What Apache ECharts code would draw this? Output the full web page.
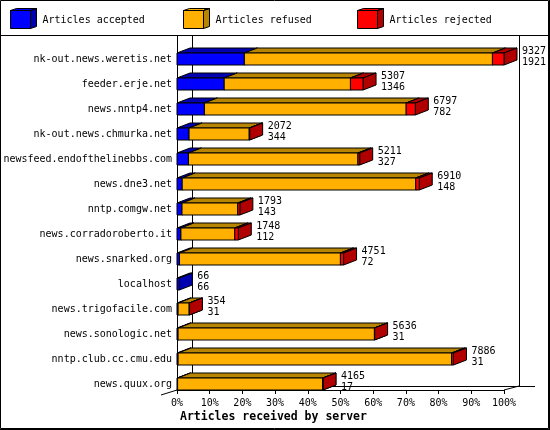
<!DOCTYPE html>
<html>
<head>
<meta charset="utf-8">
<script src="https://cdn.jsdelivr.net/npm/echarts@6/dist/echarts.min.js"></script>
<style>
  html, body { margin: 0; padding: 0; background: #fff; }
  #demo { width: 550px; height: 430px; }
</style>
</head>
<body>
<div id="demo"></div>
<script>
var servers = ["nk-out.news.weretis.net", "feeder.erje.net", "news.nntp4.net", "nk-out.news.chmurka.net",
  "newsfeed.endofthelinebbs.com", "news.dne3.net", "nntp.comgw.net", "news.corradoroberto.it",
  "news.snarked.org", "localhost", "news.trigofacile.com", "news.sonologic.net",
  "nntp.club.cc.cmu.edu", "news.quux.org"];
var totals   = [9327, 5307, 6797, 2072, 5211, 6910, 1793, 1748, 4751, 66, 354, 5636, 7886, 4165];
var accepted = [1921, 1346, 782, 344, 327, 148, 143, 112, 72, 66, 31, 31, 31, 17];
var refused  = [7076, 3601, 5755, 1716, 4834, 6662, 1590, 1536, 4589, 0, 318, 5600, 7805, 4143];
var rejected = [330, 360, 260, 12, 50, 100, 60, 100, 90, 0, 5, 5, 50, 5];
var pctTicks = [0, 10, 20, 30, 40, 50, 60, 70, 80, 90, 100];

var FONT = '"DejaVu Sans Mono", "Liberation Mono", monospace';
var DX = 13, DY = 5;          // depth of the bars
var WX = 15, WY = 4;          // depth of the walls

var colors = {
  accepted: ['#0000ff', '#0000b0'],
  refused:  ['#ffb000', '#b88500'],
  rejected: ['#ff0000', '#b00000']
};

var maxTotal = Math.max.apply(null, totals);
function pct(v) { return v / maxTotal * 100; }

// stacked segments [start%, end%, index]
function segments(vals, before) {
  return vals.map(function (v, i) {
    var s = 0;
    before.forEach(function (arr) { s += arr[i]; });
    return [pct(s), pct(s + v), i];
  });
}

function barItem(front, side) {
  return function (params, api) {
    var i = api.value(2);
    var a = api.coord([api.value(0), i]);
    var b = api.coord([api.value(1), i]);
    if (b[0] - a[0] <= 0) return;
    var band = api.size([0, 1])[1];
    var y1 = a[1] + band / 2;
    var y0 = y1 - 12;
    var x0 = a[0], x1 = b[0];
    var st = function (fill) { return { fill: fill, stroke: '#000', lineWidth: 1 }; };
    return {
      type: 'group',
      children: [
        { type: 'polygon', shape: { points: [[x0, y0], [x1, y0], [x1 + DX, y0 - DY], [x0 + DX, y0 - DY]] }, style: st(side) },
        { type: 'polygon', shape: { points: [[x1, y0], [x1 + DX, y0 - DY], [x1 + DX, y1 - DY], [x1, y1]] }, style: st(side) },
        { type: 'rect', shape: { x: x0, y: y0, width: x1 - x0, height: y1 - y0 }, style: st(front) }
      ]
    };
  };
}

function labelItem(params, api) {
  var p = api.coord([api.value(0), api.value(1)]);
  return {
    type: 'text',
    style: {
      x: p[0] + DX + 5, y: p[1] + 4,
      text: api.value(2) + '\n' + api.value(3),
      fill: '#000', font: '10px ' + FONT,
      verticalAlign: 'middle', align: 'left', lineHeight: 11
    }
  };
}

function frameItem(params, api) {
  var cs = params.coordSys;
  var x0 = cs.x, x1 = cs.x + cs.width, yT = cs.y - 4, yB = cs.y + cs.height;
  var ln = { stroke: '#000', lineWidth: 1 };
  function line(ax, ay, bx, by) {
    return { type: 'line', shape: { x1: ax, y1: ay, x2: bx, y2: by }, style: ln };
  }
  return {
    type: 'group',
    children: [
      line(x0 + 0.5, yT, x0 + 0.5, cs.y),
      line(x0 + WX + 0.5, yT, x0 + WX + 0.5, yB - WY),
      line(x1 + WX + 0.5, yT, x1 + WX + 0.5, yB - WY),
      line(x0 + WX, yB - WY + 0.5, x1 + WX * 2 + 1, yB - WY + 0.5),
      line(x1, yB, x1 + WX, yB - WY),
      line(x0, yB, x0 - 16, yB + 5)
    ]
  };
}

function boxIcon() {
  return 'path://M0,2H20V20H0Z M0,2L6,0H26L20,2Z M20,2L26,0V18L20,20Z';
}
function boxFill(c) {
  return new echarts.graphic.LinearGradient(0, 0, 1, 0, [
    { offset: 0, color: c[0] }, { offset: 0.768, color: c[0] },
    { offset: 0.77, color: c[1] }, { offset: 1, color: c[1] }
  ]);
}
function legendAt(name, c, left) {
  return {
    data: [{ name: name, icon: boxIcon(), itemStyle: { color: boxFill(c), borderColor: '#000', borderWidth: 1 } }],
    left: left, top: 8, padding: 0,
    itemWidth: 26, itemHeight: 20, itemGap: 0,
    selectedMode: false,
    formatter: '{t|{name}}',
    textStyle: {
      fontFamily: FONT, fontSize: 10, color: '#000',
      rich: { t: { fontFamily: FONT, fontSize: 10, color: '#000', padding: [4, 0, 0, 1] } }
    }
  };
}

var myChart = echarts.init(document.getElementById('demo'));

var option = {
  backgroundColor: '#fff',
  animation: false,
  title: {
    text: 'Articles received by server',
    left: 180, top: 411, padding: 0,
    textStyle: { fontFamily: FONT, fontWeight: 'bold', fontSize: 11.5, color: '#000' }
  },
  legend: [
    legendAt('Articles accepted', colors.accepted, 10),
    legendAt('Articles refused', colors.refused, 183),
    legendAt('Articles rejected', colors.rejected, 357)
  ],
  graphic: [
    { type: 'rect', shape: { x: 0.5, y: 0.5, width: 548, height: 428 }, style: { fill: null, stroke: '#000', lineWidth: 1 }, silent: true },
    { type: 'line', shape: { x1: 549.5, y1: 0, x2: 549.5, y2: 430 }, style: { stroke: '#000', lineWidth: 1 }, silent: true },
    { type: 'line', shape: { x1: 0, y1: 429.5, x2: 550, y2: 429.5 }, style: { stroke: '#000', lineWidth: 1 }, silent: true },
    { type: 'line', shape: { x1: 0, y1: 35.5, x2: 550, y2: 35.5 }, style: { stroke: '#000', lineWidth: 1 }, silent: true }
  ],
  grid: { left: 177, right: 46, top: 40, bottom: 40, containLabel: false, outerBoundsMode: 'none' },
  xAxis: {
    type: 'value',
    min: pctTicks[0], max: pctTicks[pctTicks.length - 1], interval: pctTicks[1] - pctTicks[0],
    axisLine: { show: true, lineStyle: { color: '#000', width: 1 } },
    axisTick: { show: true, length: 4, lineStyle: { color: '#000' } },
    splitLine: { show: false },
    axisLabel: { formatter: '{value}%', fontFamily: FONT, fontSize: 10, color: '#000', margin: 8 }
  },
  yAxis: {
    type: 'category',
    inverse: true,
    data: servers,
    axisLine: { show: true, lineStyle: { color: '#000', width: 1 } },
    axisTick: { show: false },
    axisLabel: { fontFamily: FONT, fontSize: 10, color: '#000', margin: 5, verticalAlign: 'top', lineHeight: 13 }
  },
  series: [
    { type: 'custom', name: 'frame', silent: true, renderItem: frameItem, encode: { x: 0, y: 1 }, data: [[0, 0]] },
    {
      type: 'custom', name: 'Articles accepted', renderItem: barItem(colors.accepted[0], colors.accepted[1]),
      encode: { x: [0, 1], y: 2 }, data: segments(accepted, [])
    },
    {
      type: 'custom', name: 'Articles refused', renderItem: barItem(colors.refused[0], colors.refused[1]),
      encode: { x: [0, 1], y: 2 }, data: segments(refused, [accepted])
    },
    {
      type: 'custom', name: 'Articles rejected', renderItem: barItem(colors.rejected[0], colors.rejected[1]),
      encode: { x: [0, 1], y: 2 }, data: segments(rejected, [accepted, refused])
    },
    {
      type: 'custom', name: 'labels', silent: true, renderItem: labelItem,
      encode: { x: 0, y: 1 },
      data: totals.map(function (t, i) { return [pct(t), i, t, accepted[i]]; })
    }
  ]
};

myChart.setOption(option);
</script>
</body>
</html>
